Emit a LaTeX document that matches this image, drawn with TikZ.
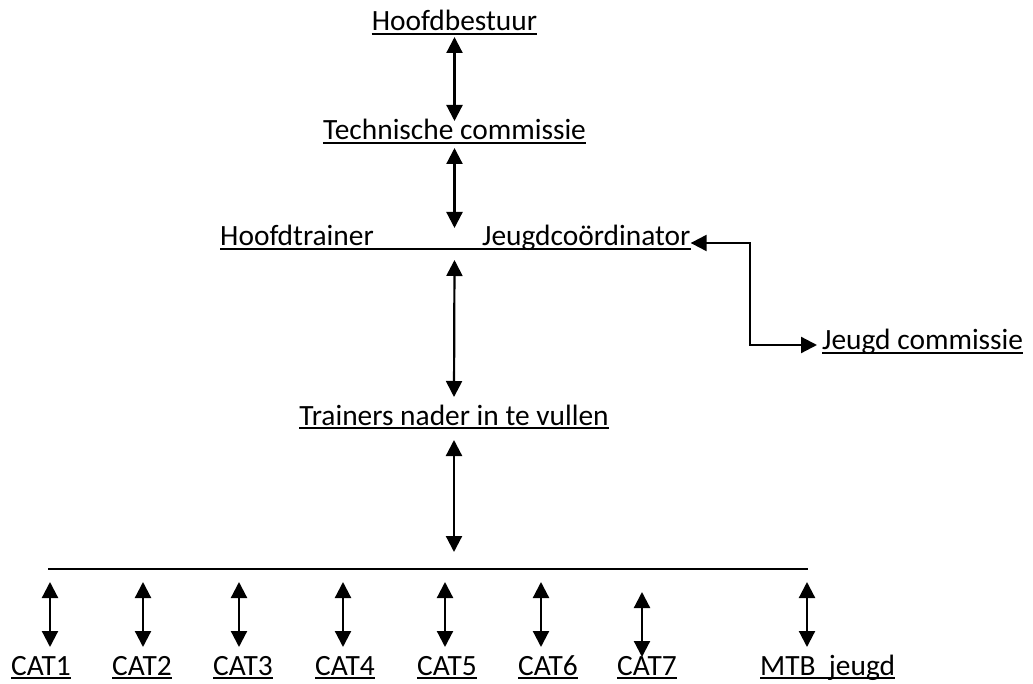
\documentclass[tikz,border=0pt]{standalone}
\usepackage{fontspec}
\setmainfont{Carlito}
\usetikzlibrary{arrows.meta,calc}
\begin{document}
\begin{tikzpicture}[x=1pt,y=-1pt,
  lbl/.style={inner sep=0pt,font=\fontsize{29.4}{36}\selectfont},
  ul/.style={line width=2.2pt},
  tip/.tip={Triangle[width=16pt,length=16pt]},
  dbl/.style={line width=2.2pt,tip-tip}]
\useasboundingbox (0,0) rectangle (1033,684);
% nodes
\node[lbl,anchor=base] (hb) at (454.5,31) {Hoofdbestuur};
\node[lbl,anchor=base] (tc) at (454.5,140) {Technische commissie};
\node[lbl,anchor=base west] (ht) at (220,246) {Hoofdtrainer};
\node[lbl,anchor=base west] (jc) at (482,246) {Jeugdcoördinator};
\node[lbl,anchor=base west] (jcm) at (822,350) {Jeugd commissie};
\node[lbl,anchor=base] (tn) at (454,425) {Trainers nader in te vullen};
% underlines
\foreach \n in {hb,tc,jcm,tn}
  \draw[ul] ([yshift=-3pt]\n.base west) -- ([yshift=-3pt]\n.base east);
\draw[ul] ([yshift=-3pt]ht.base west) -- ([yshift=-3pt]jc.base east);
% bar
\coordinate (barL) at (48,569);
\coordinate (barR) at (808,569);
\draw[ul] (barL) -- (barR);
% vertical arrows
\draw[dbl] ([yshift=-6pt]hb.base) -- ([yshift=19pt]tc.base);
\draw[dbl] ([yshift=-8pt]tc.base) -- ([yshift=18pt]tc.base |- ht.base);
\draw[dbl] ([yshift=-14pt]tc.base |- ht.base) -- ([yshift=28pt]tn.base);
\draw[dbl] ([yshift=-15pt]tn.base) -- ([yshift=17pt]tn.base |- barL);
% jeugd commissie connector
\coordinate (jx) at (750,0);
\coordinate (jtop) at ([yshift=3pt]jc.base east);
\coordinate (jbot) at ([xshift=-5pt,yshift=5pt]jcm.base west);
\draw[dbl] (jtop) -- (jtop -| jx) -- (jbot -| jx) -- (jbot);
% categories
\foreach \n/\lx/\ax/\t/\b in {1/11/50/13/28,2/112/143/13/28,3/213/239/13/28,4/315/343/13/28,5/417/445/13/28,6/518/541/13/28,7/617/642/23/18}{
  \node[lbl,anchor=base west] (cat\n) at (\lx,675) {CAT\n};
  \draw[ul] ([yshift=-3pt]cat\n.base west) -- ([yshift=-3pt]cat\n.base east);
  \coordinate (ax\n) at (\ax,0);
  \draw[dbl] ([yshift=-\t pt]barL -| ax\n) -- ([yshift=\b pt]cat\n.base -| ax\n);
}
\node[lbl,anchor=base west] (mtb) at (760,675) {MTB\ \ jeugd};
\draw[ul] ([yshift=-3pt]mtb.base west) -- ([yshift=-3pt]mtb.base east);
\coordinate (ax8) at (807,0);
\draw[dbl] ([yshift=-13pt]barL -| ax8) -- ([yshift=28pt]mtb.base -| ax8);
\end{tikzpicture}
\end{document}
